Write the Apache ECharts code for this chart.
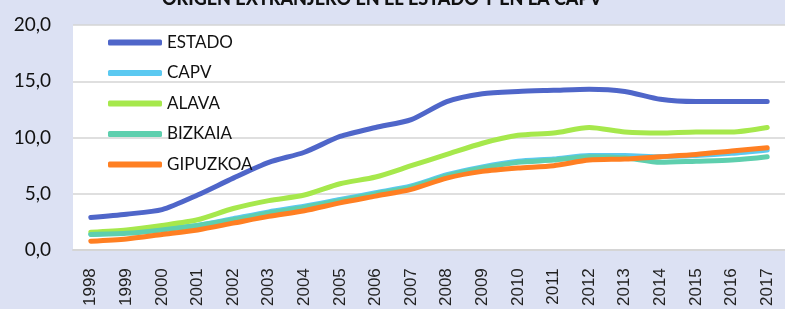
<!DOCTYPE html>
<html><head><meta charset="utf-8">
<script src="https://cdn.jsdelivr.net/npm/echarts@6/dist/echarts.min.js"></script>
<style>html,body{margin:0;padding:0;background:#dce1f3;}#c{width:785px;height:309px;}</style>
</head><body><div id="c"></div>
<script>
const years = ['1998','1999','2000','2001','2002','2003','2004','2005','2006','2007','2008','2009','2010','2011','2012','2013','2014','2015','2016','2017'];
const estado   = [2.9,3.2,3.6,4.9,6.4,7.8,8.7,10.1,10.9,11.6,13.2,13.9,14.1,14.2,14.3,14.1,13.4,13.2,13.2,13.2];
const capv     = [1.4,1.6,1.9,2.2,2.8,3.4,3.9,4.5,5.1,5.7,6.7,7.4,7.9,8.1,8.4,8.4,8.3,8.4,8.6,8.9];
const alava    = [1.6,1.8,2.2,2.7,3.7,4.4,4.9,5.9,6.5,7.5,8.5,9.5,10.2,10.4,10.9,10.5,10.4,10.5,10.5,10.9];
const bizkaia  = [1.4,1.5,1.8,2.2,2.7,3.3,3.8,4.4,5.0,5.6,6.6,7.3,7.8,8.0,8.3,8.2,7.8,7.9,8.0,8.3];
const gipuzkoa = [0.8,1.0,1.4,1.8,2.4,3.0,3.5,4.2,4.8,5.4,6.4,7.0,7.3,7.5,8.0,8.1,8.3,8.5,8.8,9.1];
const yTicks = [0,5,10,15,20];
const names = ['ESTADO','CAPV','ALAVA','BIZKAIA','GIPUZKOA'];
const colors = ['#4f66c9','#5bc9f1','#a6e84c','#5ecfae','#ff7f22'];
const values = [estado, capv, alava, bizkaia, gipuzkoa];

const chart = echarts.init(document.getElementById('c'));
chart.setOption({
  backgroundColor: '#dce1f3',
  animation: false,
  title: {
    text: 'ORIGEN EXTRANJERO EN EL ESTADO Y EN LA CAPV',
    left: 157, top: -15,
    textStyle: {fontFamily: 'Lato', fontWeight: 900, fontSize: 18, color: '#111'}
  },
  grid: {left: 73, top: 25, width: 723, height: 229, show: true, backgroundColor: '#ffffff', borderWidth: 0},
  legend: {
    orient: 'vertical', left: 103, top: 29,
    itemWidth: 54, itemHeight: 6, itemGap: 13.5, icon: 'roundRect',
    textStyle: {fontFamily: 'Lato', fontSize: 17, color: '#111', lineHeight: 16},
    data: names
  },
  xAxis: {
    type: 'category', data: years, boundaryGap: true,
    axisLine: {lineStyle: {color: '#d5d5d5', width: 2}},
    axisTick: {show: false},
    axisLabel: {rotate: 90, margin: 18, fontFamily: 'Liberation Sans', fontSize: 17, color: '#222', interval: 0}
  },
  yAxis: {
    type: 'value', min: yTicks[0], max: yTicks[yTicks.length-1], interval: 5,
    axisLine: {show: false}, axisTick: {show: false},
    splitLine: {lineStyle: {color: '#d5d5d5', width: 1.5}},
    axisLabel: {margin: 22, fontFamily: 'Lato', fontSize: 19, color: '#111',
      formatter: v => v.toFixed(1).replace('.', ',')}
  },
  series: names.map((n, i) => ({
    name: n, type: 'line', data: values[i], smooth: 0.25, symbol: 'none',
    lineStyle: {color: colors[i], width: 5, cap: 'round', join: 'round'},
    itemStyle: {color: colors[i]}
  }))
});
</script></body></html>
